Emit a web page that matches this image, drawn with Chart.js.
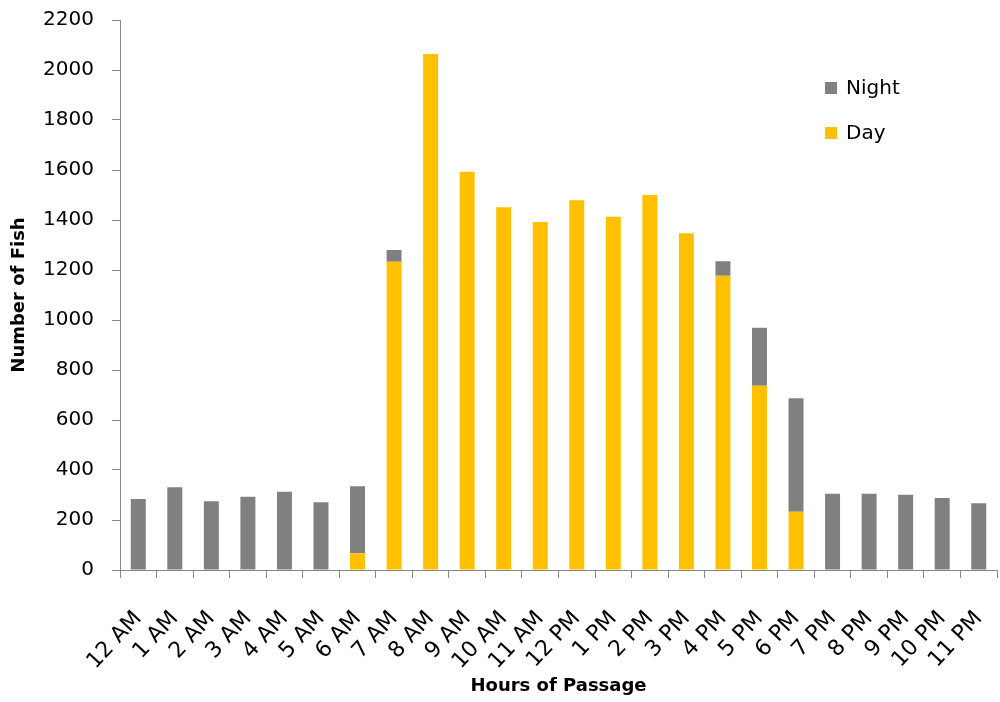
<!DOCTYPE html>
<html>
<head>
<meta charset="utf-8">
<script src="https://cdn.jsdelivr.net/npm/chart.js@4/dist/chart.umd.min.js"></script>
<style>
  html, body { margin: 0; padding: 0; background: #fff; }
  #wrap { width: 1000px; height: 702px; position: relative; }
</style>
</head>
<body>
<div id="wrap"><canvas id="c"></canvas></div>
<script>
// Hourly fish passage, split into night-time and day-time counts
const hours = ['12 AM','1 AM','2 AM','3 AM','4 AM','5 AM','6 AM','7 AM','8 AM','9 AM','10 AM','11 AM',
               '12 PM','1 PM','2 PM','3 PM','4 PM','5 PM','6 PM','7 PM','8 PM','9 PM','10 PM','11 PM'];
const dayFish   = [0, 0, 0, 0, 0, 0, 67, 1233, 2064, 1593, 1451, 1392, 1479, 1413, 1500, 1347, 1177, 737, 233, 0, 0, 0, 0, 0];
const nightFish = [284, 331, 275, 293, 313, 271, 268, 47, 0, 0, 0, 0, 0, 0, 0, 0, 58, 232, 454, 305, 305, 301, 288, 267];
const yTicks = [0, 200, 400, 600, 800, 1000, 1200, 1400, 1600, 1800, 2000, 2200];

const DAY = '#FFC000';
const NIGHT = '#808080';
const AXIS = '#868686';
const FONT = '"DejaVu Sans", Verdana, sans-serif';

// Legend drawn inside the plot area, Night above Day
const insideLegend = {
  id: 'insideLegend',
  afterDraw(chart) {
    const ctx = chart.ctx;
    const items = [['Night', NIGHT, 88], ['Day', DAY, 133]];
    ctx.save();
    ctx.font = '20px ' + FONT;
    ctx.textBaseline = 'middle';
    ctx.textAlign = 'left';
    for (const [label, color, y] of items) {
      ctx.fillStyle = color;
      ctx.fillRect(825, y - 6, 12, 12);
      ctx.fillStyle = '#000';
      ctx.fillText(label, 846, y + 1);
    }
    ctx.restore();
  }
};

new Chart(document.getElementById('c'), {
  type: 'bar',
  data: {
    labels: hours,
    datasets: [
      { label: 'Day', data: dayFish, backgroundColor: DAY, barPercentage: 0.82, categoryPercentage: 0.5 },
      { label: 'Night', data: nightFish, backgroundColor: NIGHT, barPercentage: 0.82, categoryPercentage: 0.5 }
    ]
  },
  options: {
    responsive: true,
    maintainAspectRatio: false,
    animation: false,
    layout: { padding: { top: 20, right: 3, left: 0, bottom: 0 } },
    plugins: {
      legend: { display: false },
      tooltip: { enabled: false }
    },
    scales: {
      x: {
        stacked: true,
        grid: { display: true, drawOnChartArea: false, color: AXIS, tickLength: 8, offset: true },
        border: { color: AXIS, width: 1 },
        ticks: { color: '#000', font: { family: FONT, size: 22 }, maxRotation: 47, minRotation: 47, autoSkip: false, padding: 28 },
        title: { display: true, text: 'Hours of Passage', color: '#000', font: { family: FONT, size: 18, weight: 'bold' }, padding: { top: 0, bottom: 5 } },
        afterFit(s) { s.height = 132; s.paddingLeft = 0; s.paddingRight = 0; }
      },
      y: {
        stacked: true,
        min: 0,
        max: 2200,
        afterBuildTicks(s) { s.ticks = yTicks.map(v => ({ value: v })); },
        grid: { display: true, drawOnChartArea: false, color: AXIS, tickLength: 8 },
        border: { color: AXIS, width: 1 },
        ticks: { color: '#000', font: { family: FONT, size: 20 }, padding: 18, callback: v => String(v) },
        title: { display: true, text: 'Number of Fish', color: '#000', font: { family: FONT, size: 18, weight: 'bold' }, padding: { top: 9, bottom: 0 } },
        afterFit(s) { s.width = 120; s.paddingTop = 0; s.paddingBottom = 0; }
      }
    }
  },
  plugins: [insideLegend]
});
</script>
</body>
</html>
